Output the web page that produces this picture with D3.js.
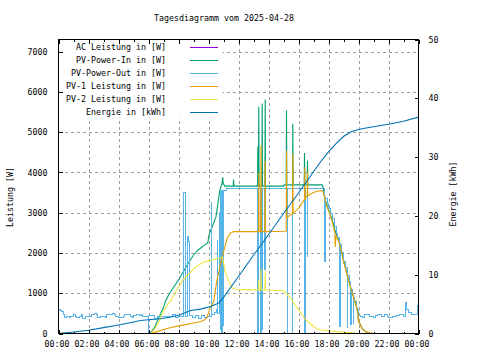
<!DOCTYPE html>
<html><head><meta charset="utf-8">
<script src="https://cdn.jsdelivr.net/npm/d3@7"></script>
<style>
body{margin:0;background:#fff}
svg{display:block}
text{font-family:"DejaVu Sans Mono",monospace;font-size:8.3px;fill:#000}
</style></head><body><svg id="c" width="480" height="360"></svg>
<script>
const chartTitle = "Tagesdiagramm vom 2025-04-28";
const yLabel = "Leistung [W]";
const y2Label = "Energie [kWh]";
const hourTicks = [0,2,4,6,8,10,12,14,16,18,20,22,24];
const hourMinorTicks = [1,3,5,7,9,11,13,15,17,19,21,23];
const powerTicks = [0,1000,2000,3000,4000,5000,6000,7000];
const energyTicks = [0,10,20,30,40,50];
const seriesNames = ["AC Leistung in [W]","PV-Power-In in [W]","PV-Power-Out in [W]","PV-1 Leistung in [W]","PV-2 Leistung in [W]","Energie in [kWh]"];
const seriesColors = ["#9400d3","#009e73","#56b4e9","#e69f00","#f0e442","#0072b2"];

// [hour, W]
const pvOut = [[0,590],[0.1,560],[0.2,540],[0.3,470],[0.4,400],[0.5,420],[0.6,430],[0.7,390],[0.8,420],[1.0,460],[1.1,430],[1.2,400],[1.4,430],[1.5,470],[1.6,380],[1.8,420],[2.0,430],[2.2,460],[2.4,500],[2.5,460],[2.6,400],[2.8,420],[3.0,430],[3.1,400],[3.2,470],[3.4,480],[3.6,500],[3.7,460],[3.8,430],[4.0,400],[4.2,390],[4.3,430],[4.4,460],[4.6,470],[4.8,430],[4.9,400],[5.0,440],[5.2,470],[5.4,440],[5.5,480],[5.6,410],[5.8,420],[5.98,30],[6.03,440],[6.2,440],[6.4,380],[6.6,420],[6.8,430],[7.0,420],[7.2,430],[7.4,420],[7.6,470],[7.8,400],[8.0,430],[8.15,410],[8.31,3500],[8.49,420],[8.58,2420],[8.66,2280],[8.72,440],[8.9,400],[9.1,450],[9.3,380],[9.5,450],[9.7,400],[9.9,420],[10.1,430],[10.2,3250],[10.23,480],[10.4,520],[10.55,600],[10.6,2300],[10.63,500],[10.7,3000],[10.73,800],[10.78,3550],[10.82,100],[10.86,3560],[10.89,0],[10.93,3560],[10.96,200],[11.0,3560],[11.2,3590],[13.28,0],[13.31,3590],[13.47,0],[13.5,3590],[13.6,100],[13.63,3590],[13.76,1600],[13.79,3590],[15.25,0],[15.28,3590],[15.58,0],[15.62,3590],[16.42,0],[16.45,3590],[16.58,1900],[16.62,3590],[17.58,3590],[17.7,3450],[17.73,1800],[17.8,3350],[17.9,3230],[18.0,3100],[18.12,2980],[18.25,2850],[18.37,2650],[18.5,2480],[18.62,2380],[18.75,2250],[18.76,170],[18.79,2200],[18.88,2000],[19.0,1800],[19.12,1650],[19.24,150],[19.27,1430],[19.37,1300],[19.47,220],[19.5,1100],[19.62,950],[19.64,250],[19.67,900],[19.75,800],[19.87,600],[20.0,450],[20.15,420],[20.25,400],[20.4,460],[20.5,480],[20.75,420],[21.0,400],[21.1,440],[21.25,480],[21.5,430],[21.75,470],[21.9,420],[22.0,400],[22.25,420],[22.5,440],[22.75,470],[23.0,430],[23.1,780],[23.2,600],[23.35,520],[23.5,460],[23.75,480],[23.9,700],[24.0,720]];
const acPower = pvOut;
const pvIn = [[6.1,0],[6.4,150],[6.7,400],[7.0,650],[7.13,800],[7.33,950],[7.67,1150],[8.0,1330],[8.5,1650],[9.0,1950],[9.25,2050],[9.5,2130],[9.75,2200],[9.95,2250],[10.05,2470],[10.3,2700],[10.5,2900],[10.6,3150],[10.75,3550],[10.9,3720],[10.95,3880],[10.98,3720],[11.1,3660],[11.65,3660],[11.67,3820],[11.7,3660],[13.27,3660],[13.29,4640],[13.33,3660],[13.35,5630],[13.37,3660],[13.56,3660],[13.58,5710],[13.6,3660],[13.76,3660],[13.78,5810],[13.8,3660],[15.0,3660],[15.05,3690],[15.18,3690],[15.2,5540],[15.22,3690],[15.6,3690],[15.62,5210],[15.64,3690],[16.38,3690],[16.4,4480],[16.42,3690],[16.58,3690],[16.6,4290],[16.62,3690],[17.58,3690],[17.65,3620],[17.8,3300],[18.0,3080],[18.25,2820],[18.5,2480],[18.75,2260],[19.0,1820],[19.25,1460],[19.5,1120],[19.75,820],[19.95,550],[20.0,320],[20.25,120],[20.5,40],[20.75,8],[21.0,0]];
const pv1 = [[6.1,0],[6.5,40],[7.0,100],[7.5,150],[8.0,190],[8.5,220],[9.0,260],[9.5,300],[9.75,340],[9.9,400],[10.1,630],[10.35,800],[10.55,1300],[10.8,1720],[11.02,2050],[11.25,2380],[11.5,2510],[11.7,2530],[13.33,2530],[13.35,4000],[13.37,2530],[13.48,2530],[13.5,4670],[13.52,2530],[13.76,2530],[13.78,4290],[13.8,2530],[15.18,2540],[15.2,4540],[15.22,2880],[15.5,2950],[15.6,2980],[15.62,4460],[15.64,2990],[16.0,3100],[16.25,3250],[16.4,3330],[16.42,4120],[16.44,3340],[16.5,3380],[16.58,3410],[16.6,4000],[16.62,3420],[16.75,3450],[17.0,3500],[17.25,3530],[17.5,3550],[17.62,3540],[17.75,3350],[17.85,3200],[18.0,3050],[18.25,2780],[18.42,2500],[18.45,2150],[18.5,2440],[18.75,2220],[19.0,1790],[19.25,1440],[19.5,1100],[19.75,800],[19.95,540],[20.0,310],[20.25,110],[20.5,40],[20.75,15],[21.0,0]];
const pv2 = [[6.15,0],[6.4,100],[6.7,300],[7.0,550],[7.25,700],[7.5,820],[7.75,1000],[8.0,1150],[8.25,1300],[8.5,1420],[8.75,1500],[9.0,1600],[9.25,1680],[9.5,1730],[9.75,1780],[10.0,1810],[10.25,1830],[10.5,1850],[10.75,1870],[10.92,1900],[11.0,1760],[11.1,1550],[11.35,1300],[11.58,1130],[11.8,1100],[12.5,1090],[13.33,1080],[13.35,1340],[13.37,1080],[13.48,1080],[13.5,1600],[13.52,1080],[13.76,1080],[13.78,1550],[13.8,1080],[15.0,1060],[15.47,880],[15.75,720],[16.0,600],[16.25,460],[16.5,340],[16.75,260],[17.0,175],[17.25,110],[17.5,85],[18.0,65],[18.5,50],[19.0,35],[19.5,20],[20.0,5],[20.3,0]];
// [hour, kWh]
const energy = [[0,0],[1,0.25],[2,0.55],[3,1.0],[4,1.45],[5,1.95],[5.47,2.2],[6,2.35],[6.8,2.5],[7.5,2.8],[8.13,3.2],[8.8,3.9],[9.47,4.15],[10.13,4.6],[10.69,5.2],[11.02,6.2],[12,9.7],[13,13.3],[14,16.8],[15,20.4],[16,23.9],[17,27.5],[17.5,29.3],[18,30.9],[18.5,32.3],[19,33.5],[19.5,34.3],[20,34.7],[20.5,34.95],[21,35.15],[22,35.6],[23,36.1],[24,36.8]];

const L = 58.5, R = 418.5, T = 39.5, B = 333.5;
const svg = d3.select("#c");
const x = d3.scaleLinear().domain([0,24]).range([L,R]);
const y = d3.scaleLinear().domain([0,7300]).range([B,T]);
const y2 = d3.scaleLinear().domain([0,50]).range([B,T]);
const fmtHour = h => String(h === 24 ? 0 : h).padStart(2,"0") + ":00";

// grid
const gridX = svg.append("g").attr("transform",`translate(0,${B})`)
  .call(d3.axisBottom(x).tickValues(hourTicks.slice(1,-1)).tickSize(-(B-T)).tickFormat(""));
const gridY = svg.append("g").attr("transform",`translate(${L},0)`)
  .call(d3.axisLeft(y).tickValues(powerTicks.slice(1)).tickSize(-(R-L)).tickFormat(""));
[gridX,gridY].forEach(g=>{g.select(".domain").remove();
  g.selectAll("line").attr("stroke","#a0a0a0").attr("stroke-dasharray","3,3").attr("shape-rendering","crispEdges");});

// series
const lineW = (sc, curve) => d3.line().x(d=>x(d[0])).y(d=>sc(d[1])).curve(curve);
const plotSeries = [
  {data:acPower, sc:y, curve:d3.curveStepAfter, crisp:true},
  {data:pvIn, sc:y, curve:d3.curveLinear, crisp:false},
  {data:pvOut, sc:y, curve:d3.curveStepAfter, crisp:true},
  {data:pv1, sc:y, curve:d3.curveLinear, crisp:false},
  {data:pv2, sc:y, curve:d3.curveLinear, crisp:false},
  {data:energy, sc:y2, curve:d3.curveLinear, crisp:false}
];
svg.append("clipPath").attr("id","pc").append("rect").attr("x",L).attr("y",T).attr("width",R-L).attr("height",B-T);
const gLines = svg.append("g").attr("clip-path","url(#pc)");
plotSeries.forEach((s,i)=>{
  gLines.append("path").attr("d",lineW(s.sc,s.curve)(s.data))
    .attr("fill","none").attr("stroke",seriesColors[i]).attr("stroke-width",s.crisp?1:1.1)
    .attr("shape-rendering", s.crisp ? "crispEdges" : "auto");
});

// legend (opaque)
svg.append("rect").attr("x",L+0.5).attr("y",T+0.5).attr("width",222-L).attr("height",117-T).attr("fill","#fff");
const leg = svg.append("g");
seriesNames.forEach((n,i)=>{
  const yy = 47 + i*13;
  leg.append("text").attr("x",166).attr("y",yy).attr("dy","0.35em").attr("text-anchor","end").text(n);
  leg.append("line").attr("x1",190).attr("x2",218).attr("y1",yy+0.5).attr("y2",yy+0.5)
    .attr("stroke",seriesColors[i]).attr("stroke-width",1);
});

// axes
function styleAxis(g){g.select(".domain").remove();g.selectAll("line").attr("stroke","#000").attr("shape-rendering","crispEdges");}
const ax = svg.append("g").attr("transform",`translate(0,${B})`)
  .call(d3.axisBottom(x).tickValues(hourTicks).tickSize(-4).tickPadding(7.5).tickFormat(fmtHour));
styleAxis(ax); ax.selectAll("text").attr("x",-2);
const axm = svg.append("g").attr("transform",`translate(0,${B})`)
  .call(d3.axisBottom(x).tickValues(hourMinorTicks).tickSize(-2).tickFormat(""));
styleAxis(axm);
const axt = svg.append("g").attr("transform",`translate(0,${T})`)
  .call(d3.axisTop(x).tickValues(hourTicks).tickSize(-4).tickFormat(""));
styleAxis(axt);
const axtm = svg.append("g").attr("transform",`translate(0,${T})`)
  .call(d3.axisTop(x).tickValues(hourMinorTicks).tickSize(-2).tickFormat(""));
styleAxis(axtm);
const ayl = svg.append("g").attr("transform",`translate(${L},0)`)
  .call(d3.axisLeft(y).tickValues(powerTicks).tickSize(-4).tickPadding(11).tickFormat(d3.format("d")));
styleAxis(ayl);
const ayr = svg.append("g").attr("transform",`translate(${R},0)`)
  .call(d3.axisRight(y2).tickValues(energyTicks).tickSize(-4).tickPadding(10).tickFormat(d3.format("d")));
styleAxis(ayr);
[ax,ayl,ayr].forEach(g=>g.selectAll("text").attr("fill","#000").style("font-family","'DejaVu Sans Mono',monospace").style("font-size","8.3px"));

// border
svg.append("rect").attr("x",L).attr("y",T).attr("width",R-L).attr("height",B-T)
  .attr("fill","none").attr("stroke","#000").attr("stroke-width",1).attr("shape-rendering","crispEdges");

// titles
svg.append("text").attr("x",224).attr("y",18).attr("dy","0.35em").attr("text-anchor","middle").text(chartTitle);
svg.append("text").attr("transform","translate(10,197) rotate(-90)").attr("dy","0.35em").attr("text-anchor","middle").text(yLabel);
svg.append("text").attr("transform","translate(453,194) rotate(-90)").attr("dy","0.35em").attr("text-anchor","middle").text(y2Label);
</script></body></html>
